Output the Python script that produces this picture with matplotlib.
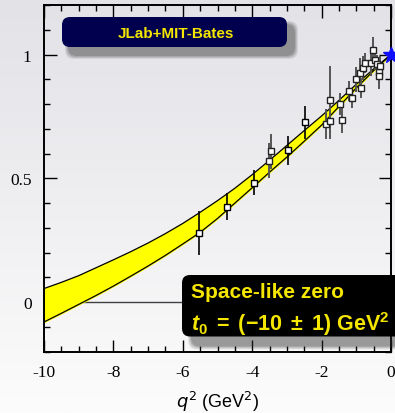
import numpy as np
import matplotlib.pyplot as plt
from matplotlib.patches import FancyBboxPatch

plt.rcParams['axes.unicode_minus'] = False
plt.rcParams['mathtext.fontset'] = 'custom'
plt.rcParams['mathtext.rm'] = 'Liberation Sans:bold'
plt.rcParams['mathtext.it'] = 'Liberation Sans:bold:italic'
plt.rcParams['mathtext.bf'] = 'Liberation Sans:bold'

# yellow band (lower / upper edge)
band_q2 = [-10, -9.5, -9, -8.5, -8, -7.5, -7, -6.5, -6, -5.5, -5, -4.5, -4,
           -3.5, -3, -2.5, -2, -1.5, -1, -0.5, 0]
band_lo = [-0.080, -0.045, -0.009, 0.027, 0.065, 0.105, 0.146, 0.189, 0.235, 0.282, 0.338,
           0.400, 0.462, 0.525, 0.586, 0.650, 0.715, 0.790, 0.865, 0.935, 1.0]
band_hi = [0.055, 0.080, 0.107, 0.139, 0.171, 0.204, 0.239, 0.277, 0.318, 0.363, 0.410,
           0.460, 0.515, 0.573, 0.633, 0.693, 0.752, 0.815, 0.880, 0.942, 1.0]

# data points with black error bars
jlab_q2 = [-5.52, -4.73, -3.96, -2.97, -2.47]
jlab_val = [0.28, 0.385, 0.483, 0.613, 0.726]
jlab_err = [0.09, 0.055, 0.05, 0.06, 0.066]

# data points with grey error bars
bates_q2 = [-3.51, -3.47, -1.87, -1.76, -1.76, -1.48, -1.42, -1.20, -1.13, -1.02, -0.89,
            -0.87, -0.80, -0.75, -0.59, -0.51, -0.45, -0.41, -0.35, -0.34, -0.32]
bates_val = [0.571, 0.609, 0.72, 0.817, 0.73, 0.80, 0.734, 0.853, 0.825, 0.90, 0.926,
             0.865, 0.946, 0.966, 0.964, 1.02, 0.977, 0.96, 0.93, 0.912, 0.954]
bates_err = [0.07, 0.07, 0.06, 0.135, 0.07, 0.045, 0.05, 0.04, 0.04, 0.05, 0.06,
             0.04, 0.05, 0.04, 0.05, 0.05, 0.04, 0.04, 0.05, 0.05, 0.04]

W, H = 395, 414
fig = plt.figure(figsize=(W / 100, H / 100), dpi=100)

# slide background gradient
bg = fig.add_axes([0, 0, 1, 1], zorder=0)
grad = np.linspace(0, 1, 256)[:, None]
top = np.array([226, 226, 231]) / 255
bot = np.array([252, 252, 252]) / 255
img = top + (bot - top) * grad[:, :, None]
bg.imshow(img, aspect='auto', extent=[0, 1, 0, 1])
bg.axis('off')

ax = fig.add_axes([44 / W, 1 - 352.7 / H, 347 / W, 346.7 / H], zorder=1)
ax.set_facecolor('none')

ax.axhline(0, color='#404040', lw=1.0, zorder=1)
ax.fill_between(band_q2, band_lo, band_hi, color='#ffff00', zorder=2)
ax.plot(band_q2, band_lo, color='black', lw=0.9, zorder=3)
ax.plot(band_q2, band_hi, color='black', lw=0.9, zorder=3)

ax.errorbar(bates_q2, bates_val, yerr=bates_err, fmt='s', ms=4.5, mfc='white', mec='#222222',
            mew=1.0, ecolor='#555555', elinewidth=1.4, capsize=0, zorder=4)
ax.errorbar(jlab_q2, jlab_val, yerr=jlab_err, fmt='s', ms=4.5, mfc='white', mec='black',
            mew=1.0, ecolor='black', elinewidth=1.2, capsize=0, zorder=5)
ax.plot([0], [1], marker='*', ms=12, color='#1010ff', clip_on=False, zorder=6)

ax.set_xlim(-10, 0)
ax.set_ylim(-0.2, 1.2)
ax.set_xticks([-10, -8, -6, -4, -2, 0])
ax.set_xticklabels(['-10', '-8', '-6', '-4', '-2', '0'])
ax.set_xticks(np.arange(-10, 0.01, 0.5), minor=True)
ax.set_yticks([0, 0.5, 1])
ax.set_yticklabels(['0', '0.5', '1'])
ax.set_yticks(np.arange(-0.2, 1.21, 0.1), minor=True)
ax.tick_params(which='both', direction='in', top=True, right=True, width=1.0, color='black')
ax.tick_params(which='major', length=9, pad=9, labelsize=12.5)
ax.tick_params(which='minor', length=4.5)
for lab in ax.get_xticklabels() + ax.get_yticklabels():
    lab.set_fontfamily('Liberation Serif')
for s in ax.spines.values():
    s.set_linewidth(1.4)
ax.set_xlabel(r'$q^2$ (GeV$^2$)', fontsize=13, fontfamily='Liberation Sans',
              math_fontfamily='dejavusans', labelpad=6)

# overlay in pixel coordinates for the labels
ov = fig.add_axes([0, 0, 1, 1], zorder=3)
ov.set_xlim(0, W)
ov.set_ylim(H, 0)
ov.axis('off')


def shadow_box(x0, y0, w, h, color, dx, dy):
    for i, a in enumerate([0.10, 0.12, 0.15, 0.20]):
        g = 4 - i
        ov.add_patch(FancyBboxPatch((x0 + dx - g, y0 + dy - g), w + 2 * g, h + 2 * g,
                                    boxstyle='round,pad=0,rounding_size=9',
                                    fc='#303030', ec='none', alpha=a, clip_on=False))
    ov.add_patch(FancyBboxPatch((x0, y0), w, h, boxstyle='round,pad=0,rounding_size=8',
                                fc=color, ec='none', clip_on=False))


shadow_box(62, 18, 225, 30, '#00004e', 7, 8)
ov.text(176, 33.5, 'JLab+MIT-Bates', color='#f5e600', fontsize=11, fontweight='bold',
        fontfamily='Liberation Sans', ha='center', va='center')

shadow_box(182, 276, 240, 61.5, 'black', 10, 9)
ov.text(191, 298, 'Space-like zero', color='#f5e600', fontsize=15, fontweight='bold',
        fontfamily='Liberation Sans', ha='left', va='baseline')
ov.text(191, 331, r'$t_0\;=\;(-10\;\pm\;1)$ GeV$^2$', color='#f5e600', fontsize=15.5,
        fontweight='bold', fontfamily='Liberation Sans', math_fontfamily='custom',
        ha='left', va='baseline', clip_on=False)

fig.savefig('out.png', dpi=100)
